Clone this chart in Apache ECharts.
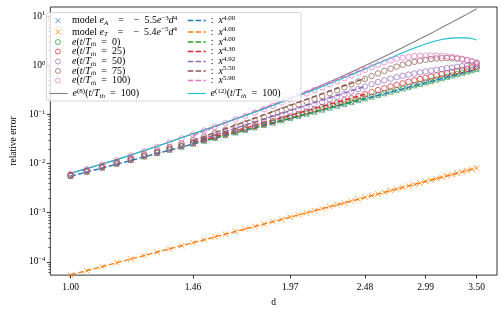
<!DOCTYPE html>
<html><head><meta charset="utf-8">
<script src="https://cdn.jsdelivr.net/npm/echarts@6/dist/echarts.min.js"></script>
<style>html,body{margin:0;padding:0;background:#fff}#c{width:504px;height:312px}</style>
</head><body><div id="c"></div>
<script>
// ---------- data ----------
const d = [1.000,1.051,1.102,1.153,1.204,1.255,1.306,1.357,1.408,1.459,1.510,1.561,1.612,1.663,1.714,1.765,1.816,1.867,1.918,1.969,2.020,2.071,2.122,2.173,2.224,2.276,2.327,2.378,2.429,2.480,2.531,2.582,2.633,2.684,2.735,2.786,2.837,2.888,2.939,2.990,3.041,3.092,3.143,3.194,3.245,3.296,3.347,3.398,3.449,3.500];
const eModelA = [0.00550,0.00671,0.00811,0.00972,0.01156,0.01364,0.01600,0.01865,0.02162,0.02492,0.02859,0.03266,0.03714,0.04207,0.04747,0.05337,0.05982,0.06683,0.07443,0.08267,0.09157,0.1012,0.1115,0.1226,0.1346,0.1476,0.1613,0.1759,0.1915,0.2081,0.2257,0.2444,0.2643,0.2854,0.3077,0.3313,0.3563,0.3826,0.4104,0.4396,0.4704,0.5027,0.5367,0.5724,0.6098,0.6491,0.6902,0.7333,0.7783,0.8253];
const eModelT = [5.40e-5,6.59e-5,7.96e-5,9.54e-5,1.135e-4,1.340e-4,1.571e-4,1.831e-4,2.122e-4,2.447e-4,2.807e-4,3.206e-4,3.646e-4,4.130e-4,4.661e-4,5.240e-4,5.873e-4,6.561e-4,7.308e-4,8.117e-4,8.991e-4,9.934e-4,1.0949e-3,1.2040e-3,1.3211e-3,1.4491e-3,1.5833e-3,1.7268e-3,1.8797e-3,2.0427e-3,2.2160e-3,2.4000e-3,2.5954e-3,2.8024e-3,3.0215e-3,3.2532e-3,3.4981e-3,3.7565e-3,4.0289e-3,4.3160e-3,4.6181e-3,4.9358e-3,5.2695e-3,5.6198e-3,5.9875e-3,6.3731e-3,6.7771e-3,7.1993e-3,7.6416e-3,8.1032e-3];
const e0 = [0.00562,0.00684,0.00827,0.00991,0.01179,0.01391,0.01632,0.01902,0.02205,0.02542,0.02916,0.03331,0.03788,0.04291,0.04842,0.05444,0.06102,0.06817,0.07592,0.08432,0.0934,0.1032,0.1137,0.1251,0.1373,0.1506,0.1645,0.1794,0.1953,0.2123,0.2302,0.2493,0.2696,0.2911,0.3139,0.3379,0.3634,0.3903,0.4186,0.4484,0.4798,0.5128,0.5474,0.5838,0.6220,0.6621,0.7040,0.7480,0.7939,0.8418];
const e25 = [0.00567,0.00691,0.00835,0.01006,0.01196,0.01419,0.01664,0.01949,0.02259,0.02617,0.03016,0.03462,0.03955,0.04501,0.05103,0.05764,0.06491,0.07284,0.0815,0.0909,0.1016,0.1139,0.1271,0.1416,0.1575,0.1749,0.1936,0.2137,0.2355,0.2601,0.2855,0.3128,0.3409,0.371,0.400,0.4307,0.4614,0.4936,0.5253,0.5583,0.5904,0.6233,0.6601,0.6955,0.7318,0.7724,0.811,0.8543,0.895,0.9408];
const e50 = [0.00578,0.00708,0.0086,0.01035,0.01237,0.01466,0.01728,0.02033,0.02378,0.02766,0.03216,0.03723,0.0429,0.04922,0.05649,0.06458,0.07388,0.0842,0.09601,0.1091,0.1236,0.1397,0.1583,0.179,0.2019,0.2273,0.258,0.292,0.330,0.370,0.412,0.455,0.495,0.535,0.572,0.610,0.645,0.680,0.715,0.748,0.780,0.810,0.840,0.870,0.900,0.930,0.960,0.990,1.020,1.050];
const e75 = [0.00589,0.00725,0.00884,0.01069,0.01289,0.01541,0.0184,0.02182,0.02573,0.03015,0.03545,0.04148,0.04828,0.05637,0.06551,0.07632,0.08853,0.1029,0.1198,0.1406,0.1596,0.1816,0.207,0.2366,0.271,0.3105,0.3556,0.4074,0.4656,0.5309,0.6039,0.684,0.7709,0.855,0.9397,1.023,1.104,1.178,1.245,1.30,1.346,1.377,1.396,1.403,1.39,1.365,1.324,1.27,1.205,1.13];
const e100 = [0.00616,0.00765,0.00949,0.01166,0.01451,0.01787,0.02192,0.02667,0.03243,0.03912,0.04689,0.05585,0.06648,0.07867,0.09257,0.1089,0.1274,0.149,0.1742,0.2023,0.2333,0.2692,0.3105,0.3581,0.4121,0.4742,0.5445,0.6237,0.7129,0.811,0.9183,1.035,1.159,1.259,1.349,1.426,1.486,1.531,1.56,1.574,1.578,1.57,1.552,1.521,1.476,1.419,1.352,1.276,1.197,1.117];
const e8 = [0.00634,0.00788,0.00977,0.01201,0.01495,0.01841,0.02258,0.02747,0.0334,0.0403,0.0483,0.0575,0.0685,0.081,0.0953,0.1122,0.1312,0.1535,0.1794,0.2084,0.2456,0.2883,0.3379,0.3954,0.462,0.5398,0.6284,0.7303,0.8472,0.9824,1.136,1.313,1.512,1.744,2.007,2.304,2.645,3.027,3.464,3.962,4.517,5.147,5.861,6.668,7.578,8.602,9.757,11.03,12.49,14.12];
const e12 = [0.00634,0.00788,0.00977,0.01201,0.01495,0.01841,0.02258,0.02747,0.0334,0.0403,0.0483,0.0575,0.0685,0.081,0.0953,0.1122,0.1312,0.1535,0.1794,0.2084,0.2404,0.2773,0.3199,0.369,0.4246,0.4887,0.5623,0.6457,0.7396,0.8453,0.9638,1.096,1.245,1.416,1.603,1.807,2.023,2.249,2.483,2.723,2.958,3.162,3.35,3.491,3.581,3.622,3.631,3.614,3.508,3.273];
// power-law fits (end points of each fitted range)
const fitFullD = [1.000, 3.500];
const fitWinD = [1.459, 2.480];
const fitA = [0.0055, 0.8253];
const fitT = [5.4e-5, 0.008103];
const fit0 = [0.02542, 0.2122];
const fit25 = [0.02637, 0.2582];
const fit50 = [0.02742, 0.3731];
const fit75 = [0.02941, 0.5441];
const fit100 = [0.03724, 0.852];
// axes
const xTickValues = [1.000, 1.459, 1.969, 2.480, 2.990, 3.500];
const xTickLabels = ['1.00', '1.46', '1.97', '2.48', '2.99', '3.50'];
const yTickExponents = [-4, -3, -2, -1, 0, 1];
const xLimits = [0.9393, 3.727];
const yLimits = [5.35e-5, 15.4];

// ---------- chart ----------
const L = Math.log10;
const pts = (xs, ys) => xs.map((x, i) => [L(x), L(ys[i])]);
const F = "'Liberation Serif', 'DejaVu Serif', serif";
const C = {blue:'#1f77b4', orange:'#ff7f0e', green:'#2ca02c', red:'#d62728', purple:'#9467bd', brown:'#8c564b', pink:'#e377c2', gray:'#7f7f7f', cyan:'#17becf'};
const X = 'path://M0,0L10,10M0,10L10,0';
const DASH = [5.5, 2.4];

const minorY = [];
for (let n = -5; n <= 1; n++) for (let k = 2; k <= 9; k++) {
  const v = L(k) + n;
  if (v > L(yLimits[0]) && v < L(yLimits[1])) minorY.push(v);
}

function scatter(name, ys, color, sym) {
  return {name, type:'scatter', data: pts(d, ys), symbol: sym, symbolSize: 5.5, symbolKeepAspect: true,
    itemStyle:{color:'transparent', borderColor: color, borderWidth: 0.9}, silent: true, z: 2};
}
function line(name, xs, ys, color, dashed) {
  return {name, type:'line', data: pts(xs, ys), symbol:'none', showSymbol: false, silent: true, z: 2,
    itemStyle: {color},
    lineStyle:{color, width: dashed ? 1.4 : 1.1, type: dashed ? DASH : 'solid'}};
}

const series = [
  scatter('mA', eModelA, C.blue, X),
  scatter('mT', eModelT, C.orange, X),
  scatter('e0', e0, C.green, 'circle'),
  scatter('e25', e25, C.red, 'circle'),
  scatter('e50', e50, C.purple, 'circle'),
  scatter('e75', e75, C.brown, 'circle'),
  scatter('e100', e100, C.pink, 'circle'),
  line('e8', d, e8, C.gray, false),
  line('fA', fitFullD, fitA, C.blue, true),
  line('fT', fitFullD, fitT, C.orange, true),
  line('f0', fitWinD, fit0, C.green, true),
  line('f25', fitWinD, fit25, C.red, true),
  line('f50', fitWinD, fit50, C.purple, true),
  line('f75', fitWinD, fit75, C.brown, true),
  line('f100', fitWinD, fit100, C.pink, true),
  line('e12', d, e12, C.cyan, false)
];

const EQ = '\u2002=\u2002';
const EQM = '\u2003=\u2003';
const CO = ':\u2002';
const labels = {
  mA: 'model {i|e}{sb|A}' + EQM + '−\u20025.5{i|e}{sp|−3}{i|d}{sp|4}',
  mT: 'model {i|e}{sb|T}' + EQM + '−\u20025.4{i|e}{sp|−5}{i|d}{sp|4}',
  e0: '{i|e}({i|t}/{i|T}{sb|th}' + EQ + '0)',
  e25: '{i|e}({i|t}/{i|T}{sb|th}' + EQ + '25)',
  e50: '{i|e}({i|t}/{i|T}{sb|th}' + EQ + '50)',
  e75: '{i|e}({i|t}/{i|T}{sb|th}' + EQ + '75)',
  e100: '{i|e}({i|t}/{i|T}{sb|th}' + EQ + '100)',
  e8: '{i|e}{sp|(8)}({i|t}/{i|T}{sb|th}' + EQ + '100)',
  fA: CO + '{i|x}{sp|4.00}', fT: CO + '{i|x}{sp|4.00}', f0: CO + '{i|x}{sp|4.00}',
  f25: CO + '{i|x}{sp|4.30}', f50: CO + '{i|x}{sp|4.92}', f75: CO + '{i|x}{sp|5.50}', f100: CO + '{i|x}{sp|5.90}',
  e12: '{i|e}{sp|(12)}({i|t}/{i|T}{sb|th}' + EQ + '100)'
};
const rich = {
  i: {fontFamily: F, fontSize: 10, fontStyle: 'italic', lineHeight: 12, color: '#000'},
  sb: {fontFamily: F, fontSize: 7, fontStyle: 'italic', lineHeight: 8, verticalAlign: 'bottom', color: '#000'},
  sp: {fontFamily: F, fontSize: 7, lineHeight: 6, verticalAlign: 'top', color: '#000'}
};
const colOrder = [
  ['mA','mT','e0','e25','e50','e75','e100','e8'],
  ['fA','fT','f0','f25','f50','f75','f100','e12']
];
const rowY = [20.5, 32, 42, 51.5, 61.5, 71, 80.5, 93.5];
const colX = [49, 187];
const legends = [];
colOrder.forEach((col, ci) => col.forEach((name, ri) => {
  const s = series.find(q => q.name === name);
  const isScatter = s.type === 'scatter';
  const lg = {
    show: true, left: colX[ci] + (isScatter ? 6 : 0), top: rowY[ri] - 6, padding: 0, orient: 'horizontal',
    itemWidth: 18, itemHeight: isScatter ? 5 : 12, selectedMode: false, z: 60,
    formatter: n => labels[n],
    textStyle: {fontFamily: F, fontSize: 10, lineHeight: 12, color: '#000', rich}
  };
  if (isScatter) {
    lg.itemStyle = {color: 'transparent', borderColor: s.itemStyle.borderColor, borderWidth: 0.9};
    lg.data = [name];
  } else {
    const ls = {color: s.lineStyle.color, width: s.lineStyle.width, type: s.lineStyle.type, opacity: 1};
    const is = {color: 'transparent', borderColor: 'transparent', borderWidth: 0, opacity: 0};
    lg.itemStyle = is;
    lg.lineStyle = ls;
    lg.data = [{name, itemStyle: is, lineStyle: ls}];
  }
  legends.push(lg);
}));

const chart = echarts.init(document.getElementById('c'), null, {renderer: 'canvas'});
chart.setOption({
  animation: false,
  backgroundColor: '#fff',
  grid: {left: 42, right: 7, top: 7, bottom: 28, show: true, borderColor: '#000', borderWidth: 0.8, backgroundColor: 'transparent'},
  graphic: [{type: 'rect', z: 50, shape: {x: 46.5, y: 12.5, width: 254.5, height: 88.5, r: 2.5},
    style: {fill: 'rgba(255,255,255,0.8)', stroke: '#cccccc', lineWidth: 0.8}}],
  xAxis: [{
    type: 'value', min: L(xLimits[0]), max: L(xLimits[1]),
    axisLine: {show: false, onZero: false}, splitLine: {show: false},
    axisTick: {show: true, length: 3.5, lineStyle: {color: '#000', width: 0.8}, customValues: xTickValues.map(L)},
    axisLabel: {customValues: xTickValues.map(L), margin: 7, fontFamily: F, fontSize: 9.5, color: '#000',
      formatter: v => { const i = xTickValues.findIndex(t => Math.abs(L(t) - v) < 1e-6); return i >= 0 ? xTickLabels[i] : ''; }},
    name: 'd', nameLocation: 'middle', nameGap: 21, nameTextStyle: {fontFamily: F, fontSize: 9.5, color: '#000'}
  }],
  yAxis: [{
    type: 'value', min: L(yLimits[0]), max: L(yLimits[1]),
    axisLine: {show: false, onZero: false}, splitLine: {show: false},
    axisTick: {show: true, length: 3.5, lineStyle: {color: '#000', width: 0.8}, customValues: yTickExponents},
    axisLabel: {customValues: yTickExponents, margin: 5,
      formatter: v => '{b|10}{s|' + (v < 0 ? '−' : '') + Math.abs(Math.round(v)) + '}',
      rich: {b: {fontFamily: F, fontSize: 9.5, lineHeight: 12, color: '#000'},
             s: {fontFamily: F, fontSize: 6.5, lineHeight: 6, verticalAlign: 'top', color: '#000'}}},
    name: 'relative error', nameLocation: 'middle', nameGap: 30, nameRotate: 90,
    nameTextStyle: {fontFamily: F, fontSize: 9.5, color: '#000'}
  }, {
    type: 'value', min: L(yLimits[0]), max: L(yLimits[1]), position: 'left',
    axisLine: {show: false, onZero: false}, splitLine: {show: false}, axisLabel: {show: false},
    axisTick: {show: true, length: 2, lineStyle: {color: '#000', width: 0.6}, customValues: minorY}
  }],
  legend: legends,
  series: series
});
</script></body></html>
